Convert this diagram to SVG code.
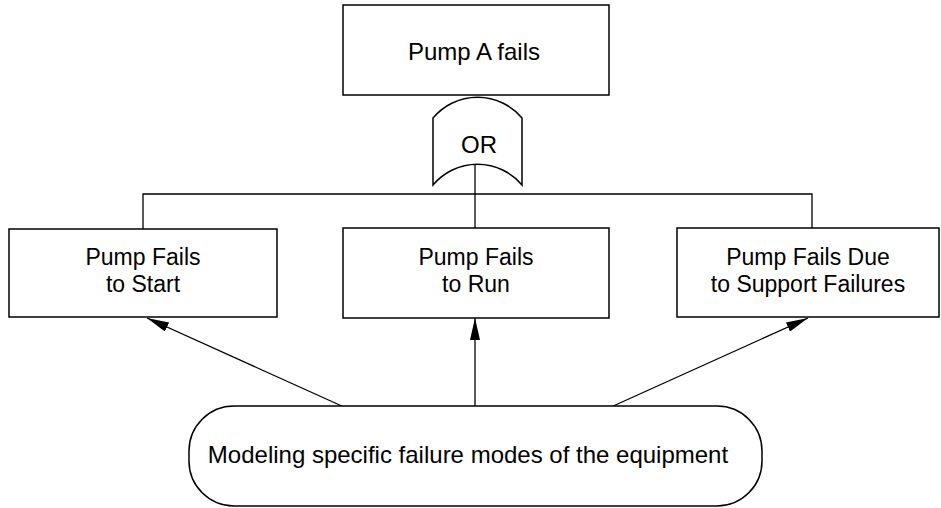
<svg xmlns="http://www.w3.org/2000/svg" width="941" height="508" viewBox="0 0 941 508">
<defs>
<style>
.box{fill:#fff;stroke:#000;stroke-width:1.5}
.ln{fill:none;stroke:#000;stroke-width:1.3}
.t{font-family:"Liberation Sans",Arial,sans-serif;font-size:23px;fill:#000;text-anchor:middle}
</style>
<marker id="ah" viewBox="0 0 22 10" refX="22" refY="5" markerWidth="22" markerHeight="10" markerUnits="userSpaceOnUse" orient="auto">
<path d="M0,0 L22,5 L0,10 Z" fill="#000"/>
</marker>
</defs>
<rect width="941" height="508" fill="#fff"/>
<g id="connectors">
<path class="ln" d="M475,164 V228"/>
<path class="ln" d="M143,229 V194 H812 V228"/>
<line class="ln" x1="344" y1="407" x2="147" y2="318" marker-end="url(#ah)"/>
<line class="ln" x1="475" y1="407" x2="475" y2="318" marker-end="url(#ah)"/>
<line class="ln" x1="611" y1="407" x2="808" y2="318" marker-end="url(#ah)"/>
</g>
<g id="top">
<rect class="box" x="343" y="5" width="266" height="90"/>
<text class="t" x="474" y="60" style="font-size:24px">Pump A fails</text>
</g>
<g id="or-gate">
<path class="box" d="M433,185 L433,118 A58,58 0 0 1 522,118 L522,185 A58,58 0 0 0 433,185 Z"/>
<text class="t" x="479" y="153" style="font-size:24px">OR</text>
</g>
<g id="start">
<rect class="box" x="9" y="229" width="268" height="88"/>
<text class="t" x="143" y="265">Pump Fails</text>
<text class="t" x="143" y="292">to Start</text>
</g>
<g id="run">
<rect class="box" x="343" y="228" width="266" height="90"/>
<text class="t" x="476" y="265">Pump Fails</text>
<text class="t" x="476" y="292">to Run</text>
</g>
<g id="support">
<rect class="box" x="677" y="228" width="262" height="89"/>
<text class="t" x="808" y="265">Pump Fails Due</text>
<text class="t" x="808" y="292">to Support Failures</text>
</g>
<g id="modeling">
<rect class="box" x="189" y="406" width="573" height="100" rx="45" ry="45"/>
<text class="t" x="468" y="463" style="font-size:24px">Modeling specific failure modes of the equipment</text>
</g>
</svg>
